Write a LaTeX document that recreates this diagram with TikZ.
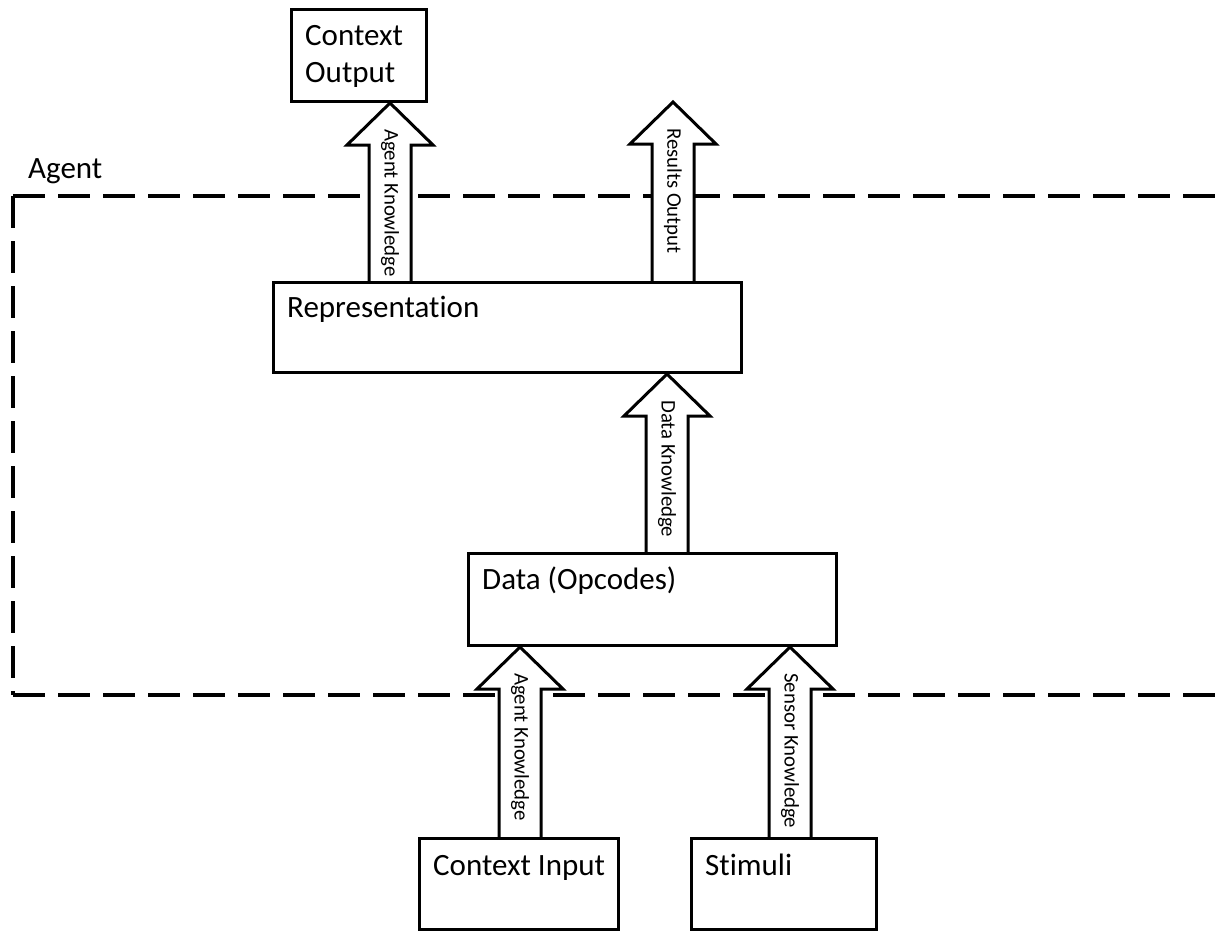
\documentclass[tikz,border=0pt]{standalone}
\usepackage{fontspec}
\setmainfont{Carlito}[Ligatures=NoCommon]
\usetikzlibrary{calc}
\pgfdeclarelayer{dashlayer}
\pgfdeclarelayer{arrowlayer}
\pgfsetlayers{dashlayer,arrowlayer,main}
\tikzset{
  box/.style={draw, line width=3pt, rectangle, inner sep=0pt},
  boxtext/.style={anchor=base west, inner sep=0pt, font=\fontsize{31}{38}\selectfont},
  alabel/.style={rotate=-90, anchor=west, inner sep=0pt, font=\fontsize{20.8}{25}\selectfont},
  barrow/.style={draw, fill=white, line width=3pt, line join=miter},
  agentline/.style={dash pattern=on 32pt off 13pt, line width=3.5pt},
}
\newcommand{\blockarrow}[3]{%
  \begin{pgfonlayer}{arrowlayer}
  \draw[barrow] ($(#1)+(-21,0)$) -- ($(#2)+(-21,42)$) -- ($(#2)+(-43,42)$) -- (#2)
     -- ($(#2)+(43,42)$) -- ($(#2)+(21,42)$) -- ($(#1)+(21,0)$);
  \end{pgfonlayer}
  \node[alabel] at ($(#2)+(0,26)$) {#3};
}
\begin{document}
\begin{tikzpicture}[x=1pt, y=-1pt]
\useasboundingbox (0,0) rectangle (1222,932);

% boxes
\node[box, minimum width=135, minimum height=92] (co) at (359,55.5) {};
\node[box, minimum width=468, minimum height=90] (rep) at (507.5,327.5) {};
\node[box, minimum width=368, minimum height=92] (data) at (652.5,599.5) {};
\node[box, minimum width=199, minimum height=91] (ci) at (519,884) {};
\node[box, minimum width=185, minimum height=91] (st) at (784,884) {};

% box texts
\node[boxtext] (cot1) at ($(co.north west)+(15,37)$) {Context};
\node[boxtext] (cot2) at ($(co.north west)+(15,74)$) {Output};
\node[boxtext] (rept) at ($(rep.north west)+(15,36)$) {Representation};
\node[boxtext] (datat) at ($(data.north west)+(15,37)$) {Data (Opcodes)};
\node[boxtext] (cit) at ($(ci.north west)+(15,38)$) {Context Input};
\node[boxtext] (stt) at ($(st.north west)+(15,38)$) {Stimuli};

% agent boundary
\node[boxtext] (agent) at (28,178) {Agent};
\coordinate (tl) at (13,196);
\coordinate (bl) at (13,695);
\coordinate (tr) at (1240,196);
\coordinate (br) at (1240,695);
\begin{pgfonlayer}{dashlayer}
\draw[agentline] (tl) -- (tr);
\draw[agentline] (bl) -- (br);
\draw[agentline] (tl) -- (bl);
\end{pgfonlayer}

% arrow end points
\coordinate (a1b) at (390,0 |- rep.north);
\coordinate (a1t) at (390,0 |- co.south);
\coordinate (a2b) at (673,0 |- rep.north);
\coordinate (a2t) at (673,102);
\coordinate (a3b) at (667,0 |- data.north);
\coordinate (a3t) at (667,0 |- rep.south);
\coordinate (a4b) at (520,0 |- ci.north);
\coordinate (a4t) at (520,0 |- data.south);
\coordinate (a5b) at (790,0 |- st.north);
\coordinate (a5t) at (790,0 |- data.south);

\blockarrow{a1b}{a1t}{Agent Knowledge}
\blockarrow{a2b}{a2t}{Results Output}
\blockarrow{a3b}{a3t}{Data Knowledge}
\blockarrow{a4b}{a4t}{Agent Knowledge}
\blockarrow{a5b}{a5t}{Sensor Knowledge}
\end{tikzpicture}
\end{document}
